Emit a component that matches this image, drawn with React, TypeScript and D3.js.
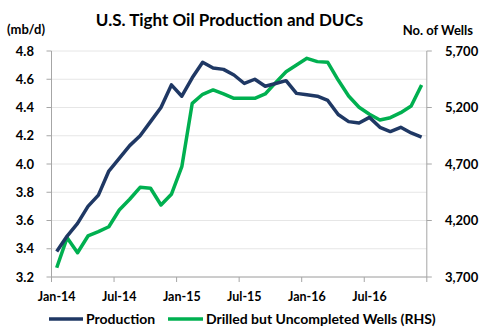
import React from "react";
import * as d3 from "d3";

const months: string[] = [
  "2014-01","2014-02","2014-03","2014-04","2014-05","2014-06","2014-07","2014-08","2014-09","2014-10","2014-11","2014-12",
  "2015-01","2015-02","2015-03","2015-04","2015-05","2015-06","2015-07","2015-08","2015-09","2015-10","2015-11","2015-12",
  "2016-01","2016-02","2016-03","2016-04","2016-05","2016-06","2016-07","2016-08","2016-09","2016-10","2016-11","2016-12",
];

const production: number[] = [
  3.38, 3.49, 3.58, 3.70, 3.78, 3.95, 4.04, 4.13, 4.20, 4.30, 4.40, 4.56,
  4.48, 4.61, 4.72, 4.68, 4.67, 4.63, 4.57, 4.60, 4.55, 4.57, 4.59, 4.50,
  4.49, 4.48, 4.45, 4.35, 4.30, 4.29, 4.33, 4.26, 4.23, 4.26, 4.22, 4.19,
];

const ducs: number[] = [
  3782, 4048, 3915, 4063, 4101, 4145, 4293, 4388, 4494, 4485, 4337, 4432,
  4676, 5237, 5317, 5355, 5320, 5281, 5281, 5281, 5320, 5420, 5517, 5576,
  5635, 5606, 5600, 5443, 5302, 5202, 5140, 5089, 5110, 5154, 5213, 5399,
];

const leftTicks: number[] = [3.2, 3.4, 3.6, 3.8, 4.0, 4.2, 4.4, 4.6, 4.8];
const rightTicks: number[] = [3700, 4200, 4700, 5200, 5700];
const xTickLabels: string[] = ["Jan-14", "Jul-14", "Jan-15", "Jul-15", "Jan-16", "Jul-16"];

const W = 484;
const H = 334;
const plotL = 51.5;
const plotR = 426.8;
const plotT = 51;
const plotB = 277;

const FONT = "Lato, 'Open Sans', sans-serif";
const NAVY = "#1f3864";
const GREEN = "#00b050";
const AXIS = "#a6a6a6";
const GRID = "#e6e6e6";

export default function App() {
  const x = d3
    .scaleBand<string>()
    .domain(months)
    .range([plotL, plotR])
    .paddingInner(0)
    .paddingOuter(0);
  const xc = (m: string) => (x(m) as number) + x.bandwidth() / 2;
  const yL = d3.scaleLinear().domain([3.2, 4.8]).range([plotB, plotT]);
  const yR = d3.scaleLinear().domain([3700, 5700]).range([plotB, plotT]);

  const prodLine = d3
    .line<number>()
    .x((_, i) => xc(months[i]))
    .y((d) => yL(d));
  const ducLine = d3
    .line<number>()
    .x((_, i) => xc(months[i]))
    .y((d) => yR(d));

  // x ticks: every 6 months boundaries plus right end
  const xTickPos: number[] = [];
  for (let i = 0; i <= months.length; i += 6) {
    xTickPos.push(i < months.length ? (x(months[i]) as number) : plotR);
  }

  return (
    <svg width={W} height={H} style={{ position: "absolute", left: 0, top: 0 }}>
      <rect width={W} height={H} fill="#fff" />
      {/* grid */}
      {leftTicks.map((t) => (
        <line key={"g" + t} x1={plotL} x2={plotR} y1={yL(t)} y2={yL(t)} stroke={GRID} strokeWidth={1} />
      ))}
      {/* axes */}
      <line x1={plotL} x2={plotL} y1={plotT} y2={plotB} stroke={AXIS} strokeWidth={1} />
      <line x1={plotR} x2={plotR} y1={plotT} y2={plotB} stroke={AXIS} strokeWidth={1} />
      <line x1={plotL} x2={plotR} y1={plotB} y2={plotB} stroke={AXIS} strokeWidth={1} />
      {leftTicks.map((t) => (
        <g key={"l" + t}>
          <line x1={plotL - 5} x2={plotL} y1={yL(t)} y2={yL(t)} stroke={AXIS} />
          <text x={34} y={yL(t)} dy="0.35em" textAnchor="end" fontFamily={FONT} fontWeight={700} fontSize={13} fill="#000">
            {t.toFixed(1)}
          </text>
        </g>
      ))}
      {rightTicks.map((t) => (
        <g key={"r" + t}>
          <line x1={plotR} x2={plotR + 5} y1={yR(t)} y2={yR(t)} stroke={AXIS} />
          <text x={445} y={yR(t)} dy="0.35em" textAnchor="start" fontFamily={FONT} fontWeight={700} fontSize={13} fill="#000">
            {d3.format(",")(t)}
          </text>
        </g>
      ))}
      {xTickPos.map((p, i) => (
        <line key={"xt" + i} x1={p} x2={p} y1={plotB} y2={plotB + 5} stroke={AXIS} />
      ))}
      {xTickLabels.map((lab, i) => (
        <text
          key={lab}
          x={xc(months[i * 6])}
          y={297}
          dy="0.35em"
          textAnchor="middle"
          fontFamily={FONT}
          fontWeight={700}
          fontSize={12.5}
          fill="#000"
        >
          {lab}
        </text>
      ))}
      {/* lines */}
      <path d={ducLine(ducs) || ""} fill="none" stroke={GREEN} strokeWidth={3.5} strokeLinejoin="round" />
      <path d={prodLine(production) || ""} fill="none" stroke={NAVY} strokeWidth={3.5} strokeLinejoin="round" />
      {/* titles */}
      <text x={229.5} y={20} dy="0.35em" textAnchor="middle" fontFamily={FONT} fontWeight={700} fontSize={17} fill="#000">
        U.S. Tight Oil Production and DUCs
      </text>
      <text x={7} y={29} dy="0.35em" textAnchor="start" fontFamily={FONT} fontWeight={700} fontSize={13} fill="#000">
        (mb/d)
      </text>
      <text x={473} y={30} dy="0.35em" textAnchor="end" fontFamily={FONT} fontWeight={700} fontSize={13} fill="#000">
        No. of Wells
      </text>
      {/* legend */}
      <line x1={49} x2={83} y1={319} y2={319} stroke={NAVY} strokeWidth={3.5} />
      <text x={86} y={319} dy="0.35em" fontFamily={FONT} fontWeight={700} fontSize={14} fill="#000">
        Production
      </text>
      <line x1={168} x2={203} y1={319} y2={319} stroke={GREEN} strokeWidth={3.5} />
      <text x={206} y={319} dy="0.35em" fontFamily={FONT} fontWeight={700} fontSize={14} fill="#000">
        Drilled but Uncompleted Wells (RHS)
      </text>
    </svg>
  );
}
